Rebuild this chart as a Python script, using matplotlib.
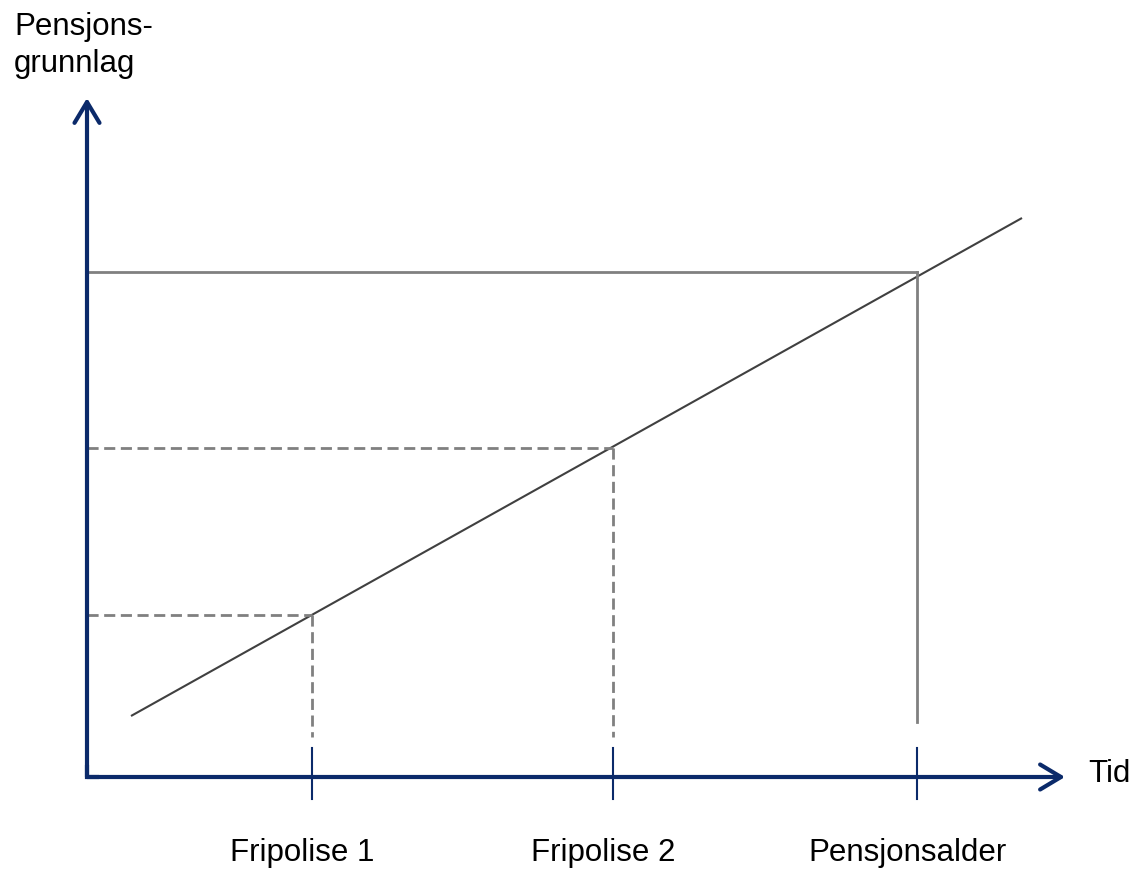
import matplotlib.pyplot as plt

plt.rcParams['font.family'] = ['Liberation Sans', 'DejaVu Sans']

# Data (time units / pension-base units)
line_t = [0.44, 9.35]
line_v = [0.61, 5.59]

event_t = [2.25, 5.26, 8.30]
event_v = [1.62, 3.29, 5.05]
event_labels = ['Fripolise 1', 'Fripolise 2', 'Pensjonsalder']
event_dashed = [True, True, False]
event_bottom = [0.40, 0.40, 0.55]

x_axis_end = 9.78
y_axis_end = 6.79

navy = '#0B2A6A'
grey = '#808080'
dark = '#404040'

fig = plt.figure(figsize=(11.33, 8.73), dpi=100)
ax = fig.add_axes([0, 0, 1, 1])
ax.set_xlim(-0.87, 10.46)
ax.set_ylim(-0.96, 7.77)
ax.axis('off')

# Axes with open arrow heads
arrow = dict(arrowstyle='->,head_length=0.75,head_width=0.45', lw=3, color=navy,
             shrinkA=0, shrinkB=0, mutation_scale=20)
ax.plot([0, 0, 0.1], [0.1, 0, 0], color=navy, lw=3, solid_joinstyle='miter')
ax.annotate('', xy=(x_axis_end, 0), xytext=(0, 0), arrowprops=arrow)
ax.annotate('', xy=(0, y_axis_end), xytext=(0, 0), arrowprops=arrow)

# Growth line
ax.plot(line_t, line_v, color=dark, lw=1.5, solid_capstyle='butt')

# Helper lines and ticks at each event
for t, v, lab, dashed, bot in zip(event_t, event_v, event_labels, event_dashed, event_bottom):
    ls = (0, (4, 2)) if dashed else '-'
    ax.plot([0, t], [v, v], color=grey, lw=2, linestyle=ls)
    ax.plot([t, t], [v, bot], color=grey, lw=2, linestyle=ls)
    ax.plot([t, t], [0.29, -0.22], color=navy, lw=1.5)
    ax.text(t - 0.1, -0.76, lab, ha='center', va='center', fontsize=22.5)

ax.text(10.01, 0.03, 'Tid', ha='left', va='center', fontsize=22.5)
ax.text(-0.73, 7.65, 'Pensjons-\ngrunnlag', ha='left', va='top', fontsize=22.5,
        linespacing=1.32)

fig.savefig('out.png', dpi=100)
